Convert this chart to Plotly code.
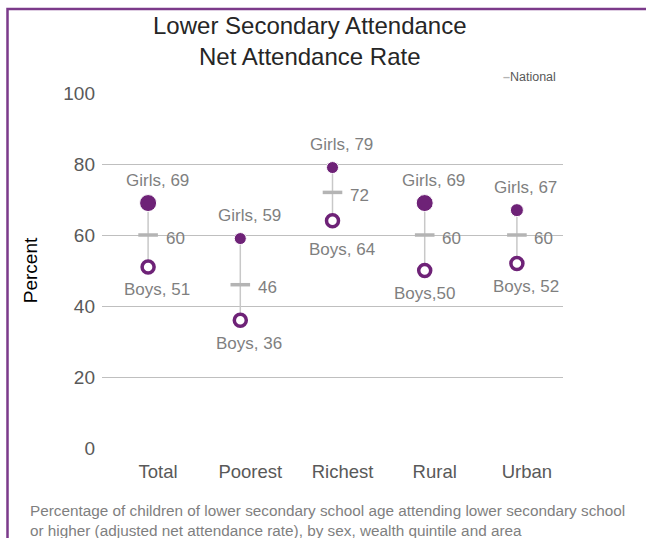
import plotly.graph_objects as go

categories = ["Total", "Poorest", "Richest", "Rural", "Urban"]
girls = [69, 59, 79, 69, 67]
boys = [51, 36, 64, 50, 52]
national = [60, 46, 72, 60, 60]
girls_labels = ["Girls, 69", "Girls, 59", "Girls, 79", "Girls, 69", "Girls, 67"]
boys_labels = ["Boys, 51", "Boys, 36", "Boys, 64", "Boys,50", "Boys, 52"]
girls_sizes = [17, 12, 12, 17, 13]

PURPLE = "#6E2277"
GREY_TXT = "#7f7f7f"
FONT = "Liberation Sans, Arial, sans-serif"

L, R, T, B = 102, 563, 93, 448
PW, PH = R - L, B - T


def px_x(p):
    return (p - L) / PW


def px_y(p):
    return (B - p) / PH


fig = go.Figure()

# connector lines
lx, ly = [], []
for c, g, b in zip(categories, girls, boys):
    lx += [c, c, None]
    ly += [g, b, None]
fig.add_trace(go.Scatter(x=lx, y=ly, mode="lines", line=dict(color="#c8c8c8", width=1.5),
                         showlegend=False, hoverinfo="skip"))

fig.add_trace(go.Scatter(x=categories, y=national, mode="markers", name="National",
                         marker=dict(symbol="line-ew", size=14, opacity=1,
                                     line=dict(color="#b4b4b4", width=3.5)),
                         showlegend=False))
fig.add_trace(go.Scatter(x=categories, y=girls, mode="markers", name="Girls",
                         marker=dict(size=girls_sizes, color=PURPLE, opacity=1), showlegend=False))
fig.add_trace(go.Scatter(x=categories, y=boys, mode="markers", name="Boys",
                         marker=dict(size=12, color="white", opacity=1, line=dict(color=PURPLE, width=3.5)),
                         showlegend=False))

LBL = 17
ann = []
for i, c in enumerate(categories):
    ann.append(dict(x=c, y=girls[i], text=girls_labels[i], showarrow=False, xshift=9, yshift=23,
                    font=dict(size=LBL, color=GREY_TXT, family=FONT)))
    ann.append(dict(x=c, y=boys[i], text=boys_labels[i], showarrow=False,
                    xshift=(0 if boys_labels[i] == "Boys,50" else 9),
                    yshift=(-29 if c == "Richest" else -23),
                    font=dict(size=LBL, color=GREY_TXT, family=FONT)))
    ann.append(dict(x=c, y=national[i], text=str(national[i]), showarrow=False, xshift=27, yshift=-3,
                    font=dict(size=LBL, color=GREY_TXT, family=FONT)))

ann.append(dict(xref="paper", yref="paper", x=px_x(310), y=px_y(41), xanchor="center", yanchor="middle",
                showarrow=False, text="Lower Secondary Attendance<br>Net Attendance Rate",
                font=dict(size=24, color="#262626", family=FONT)))
ann.append(dict(xref="paper", yref="paper", x=px_x(558), y=px_y(77), xanchor="right", yanchor="middle",
                showarrow=False,
                text="<span style='color:#b4b4b4'><b>–</b></span>National",
                font=dict(size=12.5, color="#595959", family=FONT)))
ann.append(dict(xref="paper", yref="paper", x=px_x(28), y=px_y(500),
                xanchor="left", yanchor="top", align="left", showarrow=False,
                text="Percentage of children of lower secondary school age attending lower secondary school<br>"
                     "or higher (adjusted net attendance rate), by sex, wealth quintile and area",
                font=dict(size=15.3, color=GREY_TXT, family=FONT)))

fig.update_layout(
    width=646, height=538,
    margin=dict(l=L, r=646 - R, t=T, b=538 - B),
    paper_bgcolor="white", plot_bgcolor="white",
    font=dict(family=FONT),
    showlegend=False,
    annotations=ann,
    shapes=[dict(type="path", xref="paper", yref="paper",
                 path=f"M {px_x(7.5)} -0.4 L {px_x(7.5)} {px_y(9)} L 1.3 {px_y(9)}",
                 line=dict(color="#7B3A8A", width=2.5))],
)
fig.update_xaxes(type="category", range=[-0.5, len(categories) - 0.5], showgrid=False, showline=False,
                 zeroline=False, ticks="",
                 tickfont=dict(size=18.5, color="#595959", family=FONT), ticklabelshift=10,
                 ticklabelstandoff=10)
fig.update_yaxes(range=[0, 100], dtick=20, showgrid=True, gridcolor="#bfbfbf", gridwidth=1,
                 zeroline=False, showline=False, ticks="",
                 tickfont=dict(size=19, color="#595959", family=FONT), ticklabelstandoff=6,
                 title=dict(text="Percent", font=dict(size=19, color="#000000", family=FONT), standoff=20))

fig.write_html("out.html", config={"displayModeBar": False},
               post_script="document.body.style.margin='0';")
